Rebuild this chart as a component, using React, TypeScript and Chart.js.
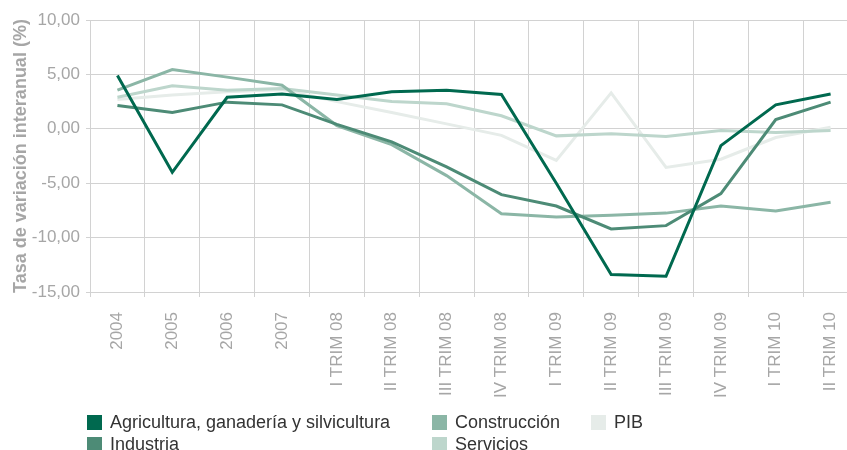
import React, { useEffect, useRef } from 'react';
import { Chart, registerables } from 'chart.js';

Chart.register(...registerables);

const categories = [
  '2004', '2005', '2006', '2007',
  'I TRIM 08', 'II TRIM 08', 'III TRIM 08', 'IV TRIM 08',
  'I TRIM 09', 'II TRIM 09', 'III TRIM 09', 'IV TRIM 09',
  'I TRIM 10', 'II TRIM 10',
];

const agricultura = [4.9, -4.0, 2.9, 3.2, 2.7, 3.4, 3.55, 3.15, -5.0, -13.4, -13.55, -1.55, 2.2, 3.2];
const industria = [2.15, 1.5, 2.45, 2.2, 0.4, -1.2, -3.5, -6.05, -7.1, -9.2, -8.9, -5.95, 0.85, 2.45];
const construccion = [3.55, 5.45, 4.75, 4.0, 0.3, -1.45, -4.3, -7.8, -8.1, -7.95, -7.75, -7.1, -7.55, -6.75];
const servicios = [2.9, 3.95, 3.55, 3.7, 3.1, 2.5, 2.3, 1.2, -0.65, -0.45, -0.7, -0.15, -0.35, -0.15];
const pib = [2.7, 3.1, 3.4, 3.6, 2.5, 1.5, 0.45, -0.6, -2.9, 3.3, -3.55, -2.8, -0.8, 0.15];

const yMin = -15;
const yMax = 10;
const yStep = 5;
const yTitle = 'Tasa de variación interanual (%)';

const seriesNames = ['Agricultura, ganadería y silvicultura', 'Industria', 'Construcción', 'Servicios', 'PIB'];
const seriesColors = ['#00694f', '#4d8b76', '#8bb6a6', '#bdd6cc', '#e6ece9'];
const seriesData = [agricultura, industria, construccion, servicios, pib];

const GRID = '#d2d2d2';
const AXIS_TEXT = '#a6a6a6';
const FONT = "Arial, 'Liberation Sans', sans-serif";

const legendItems = [
  { name: seriesNames[0], color: seriesColors[0], left: 87, top: 415 },
  { name: seriesNames[1], color: seriesColors[1], left: 87, top: 437 },
  { name: seriesNames[2], color: seriesColors[2], left: 432, top: 415 },
  { name: seriesNames[3], color: seriesColors[3], left: 432, top: 437 },
  { name: seriesNames[4], color: seriesColors[4], left: 591, top: 415 },
];

export default function App() {
  const ref = useRef<HTMLCanvasElement | null>(null);

  useEffect(() => {
    if (!ref.current) return;
    const chart = new Chart(ref.current, {
      type: 'line',
      data: {
        labels: categories,
        datasets: seriesData.map((d, i) => ({
          label: seriesNames[i],
          data: d,
          borderColor: seriesColors[i],
          backgroundColor: seriesColors[i],
          borderWidth: 3,
          pointRadius: 0,
          tension: 0,
          fill: false,
        })),
      },
      options: {
        responsive: false,
        animation: false,
        layout: { padding: { top: 20, right: 0, bottom: 0, left: 0 } },
        plugins: {
          legend: { display: false },
          tooltip: { enabled: false },
        },
        scales: {
          x: {
            offset: true,
            grid: { offset: true, color: GRID, lineWidth: 1, tickLength: 5, drawTicks: true },
            border: { color: GRID },
            ticks: {
              autoSkip: false,
              minRotation: 90,
              maxRotation: 90,
              padding: 15,
              color: AXIS_TEXT,
              font: { family: FONT, size: 17 },
            },
            afterFit: (s: any) => { s.height = 158; },
          },
          y: {
            min: yMin,
            max: yMax,
            grid: { color: GRID, lineWidth: 1, tickLength: 4 },
            border: { color: GRID },
            ticks: {
              stepSize: yStep,
              padding: 6,
              color: AXIS_TEXT,
              font: { family: FONT, size: 17 },
              callback: (v: any) => Number(v).toFixed(2).replace('.', ','),
            },
            title: {
              display: true,
              text: yTitle,
              color: AXIS_TEXT,
              font: { family: FONT, size: 18, weight: 'bold' },
              padding: { top: 10, bottom: 0 },
            },
            afterFit: (s: any) => { s.width = 90; },
          },
        },
      },
    });
    return () => chart.destroy();
  }, []);

  return (
    <div style={{ position: 'fixed', left: 0, top: 0, width: 847, height: 450, overflow: 'hidden', background: '#fff' }}>
      <canvas ref={ref} width={866} height={450} style={{ display: 'block' }} />
      {legendItems.map((it) => (
        <div key={it.name} style={{ position: 'absolute', left: it.left, top: it.top, display: 'flex', alignItems: 'center', height: 15 }}>
          <div style={{ width: 15, height: 15, background: it.color, marginRight: 8 }} />
          <span style={{ fontFamily: FONT, fontSize: 18, color: '#333', lineHeight: '15px', whiteSpace: 'nowrap' }}>{it.name}</span>
        </div>
      ))}
    </div>
  );
}
